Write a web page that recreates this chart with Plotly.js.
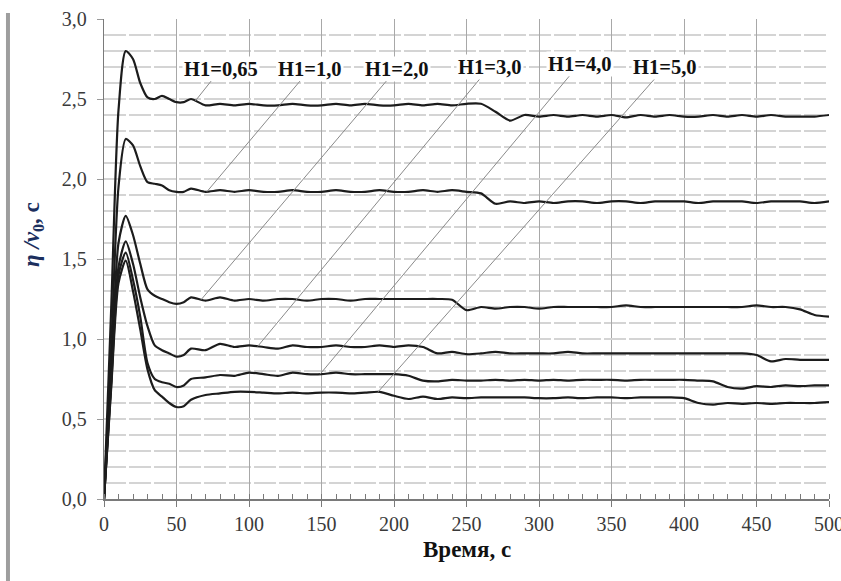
<!DOCTYPE html>
<html>
<head>
<meta charset="utf-8">
<script src="https://cdn.plot.ly/plotly-3.0.1.min.js"></script>
<style>html,body{margin:0;padding:0;background:#fff;}#chart{width:841px;height:581px;}</style>
</head>
<body>
<div id="chart"></div>
<script>
// Time axis (s)
const time = [0,5,10,15,20,25,30,35,40,45,50,55,60,
  70,80,90,100,110,120,130,140,150,
  160,170,180,190,200,210,220,230,240,250,
  260,270,280,290,300,310,320,330,340,350,
  360,370,380,390,400,410,420,430,440,450,
  460,470,480,490,500];

// η / v0 series (one per H1 value)
const h065 = [0,1.20,2.43,2.80,2.75,2.60,2.51,2.50,2.52,2.50,2.48,2.48,2.50,
  2.46,2.47,2.46,2.47,2.46,2.46,2.47,2.46,2.46,
  2.47,2.46,2.47,2.46,2.46,2.47,2.46,2.47,2.46,2.47,
  2.47,2.42,2.365,2.40,2.39,2.40,2.39,2.40,2.39,2.40,
  2.385,2.40,2.39,2.40,2.39,2.39,2.40,2.39,2.40,2.39,
  2.40,2.39,2.39,2.39,2.40];
const h10 = [0,0.95,1.95,2.25,2.21,2.08,1.98,1.97,1.96,1.93,1.92,1.92,1.94,
  1.92,1.93,1.92,1.93,1.92,1.92,1.93,1.92,1.92,
  1.93,1.92,1.92,1.93,1.92,1.92,1.93,1.92,1.93,1.92,
  1.91,1.845,1.86,1.85,1.86,1.85,1.86,1.86,1.85,1.86,
  1.86,1.85,1.86,1.86,1.86,1.85,1.86,1.86,1.86,1.85,
  1.86,1.86,1.86,1.85,1.86];
const h20 = [0,0.80,1.60,1.77,1.65,1.47,1.31,1.27,1.25,1.23,1.22,1.23,1.26,
  1.24,1.26,1.24,1.25,1.24,1.25,1.25,1.24,1.25,
  1.25,1.24,1.25,1.25,1.25,1.25,1.25,1.25,1.245,1.18,
  1.20,1.19,1.20,1.20,1.19,1.20,1.20,1.20,1.20,1.20,
  1.21,1.20,1.20,1.20,1.20,1.20,1.20,1.20,1.20,1.21,
  1.20,1.20,1.185,1.15,1.14];
const h30 = [0,0.75,1.45,1.61,1.47,1.26,1.08,0.96,0.93,0.91,0.89,0.90,0.94,
  0.93,0.97,0.95,0.96,0.95,0.94,0.96,0.95,0.95,
  0.96,0.95,0.95,0.96,0.95,0.96,0.95,0.91,0.92,0.905,
  0.91,0.92,0.91,0.91,0.91,0.91,0.92,0.91,0.91,0.91,
  0.91,0.91,0.91,0.91,0.91,0.91,0.91,0.91,0.91,0.90,
  0.86,0.875,0.87,0.87,0.87];
const h40 = [0,0.72,1.40,1.54,1.37,1.14,0.85,0.75,0.73,0.72,0.70,0.71,0.75,
  0.76,0.775,0.77,0.79,0.78,0.77,0.79,0.78,0.78,
  0.79,0.78,0.78,0.78,0.78,0.77,0.74,0.735,0.745,0.74,
  0.74,0.745,0.74,0.745,0.74,0.745,0.74,0.745,0.745,0.745,
  0.74,0.745,0.745,0.745,0.745,0.74,0.735,0.70,0.69,0.705,
  0.70,0.71,0.705,0.71,0.71];
const h50 = [0,0.70,1.35,1.49,1.30,1.06,0.81,0.68,0.64,0.60,0.575,0.58,0.62,
  0.65,0.66,0.67,0.67,0.665,0.66,0.665,0.66,0.665,
  0.665,0.66,0.665,0.67,0.645,0.625,0.64,0.625,0.635,0.63,
  0.635,0.635,0.635,0.635,0.63,0.63,0.635,0.63,0.635,0.635,
  0.63,0.635,0.635,0.635,0.63,0.60,0.59,0.60,0.595,0.60,
  0.595,0.60,0.60,0.60,0.605];

const seriesLabels = ["H1=0,65","H1=1,0","H1=2,0","H1=3,0","H1=4,0","H1=5,0"];
const series = [h065,h10,h20,h30,h40,h50];

// label callout placement (layout): time at which leader touches curve, label centre
const callout = [
  {t:63,  lx:80.7,  ly:2.69},
  {t:71,  lx:142.4, ly:2.69},
  {t:67,  lx:202,   ly:2.69},
  {t:106, lx:266,   ly:2.70},
  {t:149, lx:328,   ly:2.72},
  {t:189, lx:387,   ly:2.70}
];

function interp(xs, ys, x){
  for(let i=0;i<xs.length-1;i++){
    if(x>=xs[i] && x<=xs[i+1]){
      const f=(x-xs[i])/(xs[i+1]-xs[i]);
      return ys[i]+f*(ys[i+1]-ys[i]);
    }
  }
  return ys[ys.length-1];
}

const traces = series.map((s,i)=>({
  x: time, y: s, type:'scatter', mode:'lines', name: seriesLabels[i],
  line:{color:'#1c1c1c', width:2.2, shape:'spline', smoothing:0.7},
  showlegend:false, hoverinfo:'skip'
}));

const serif = 'Liberation Serif';

const annotations = series.map((s,i)=>({
  x: callout[i].t, y: interp(time, s, callout[i].t), xref:'x', yref:'y',
  ax: callout[i].lx, ay: callout[i].ly, axref:'x', ayref:'y',
  text:'<b>'+seriesLabels[i]+'</b>', showarrow:true, arrowhead:0, arrowwidth:1,
  arrowcolor:'#8a8a8a', bgcolor:'#ffffff', borderpad:1,
  font:{family:serif, size:20.5, color:'#111'}
}));

annotations.push({
  xref:'paper', yref:'paper', x:-0.098, y:0.552, xanchor:'center', yanchor:'middle',
  textangle:-90, showarrow:false,
  text:'<b><i>η /v</i><sub>0</sub>, c</b>',
  font:{family:serif, size:23, color:'#1c2f5e'}
});
annotations.push({
  xref:'paper', yref:'paper', x:0.5, y:-0.106, xanchor:'center', yanchor:'middle',
  showarrow:false, text:'<b>Время, с</b>',
  font:{family:serif, size:23, color:'#111'}
});

const layout = {
  width:841, height:581,
  margin:{l:104, r:12, t:19, b:82},
  paper_bgcolor:'#fff', plot_bgcolor:'#fff',
  separators:', ',
  showlegend:false,
  font:{family:serif},
  xaxis:{
    range:[0,500], dtick:50, tick0:0, showgrid:true, gridcolor:'#a8a8a8', gridwidth:1,
    zeroline:false, showline:true, linecolor:'#7a7a7a', linewidth:1.5,
    ticks:'outside', ticklen:6, tickcolor:'#7a7a7a', tickwidth:1,
    tickfont:{family:serif, size:20, color:'#3a3a3a'},
    ticklabeloverflow:'allow',
    minor:{dtick:10, ticks:'inside', ticklen:5, tickcolor:'#7a7a7a', showgrid:false},
    fixedrange:true
  },
  yaxis:{
    range:[0,3], dtick:0.5, tick0:0, tickformat:'.1f',
    showgrid:true, gridcolor:'#d4d4d4', gridwidth:1.5, griddash:'22px,3px',
    zeroline:false, showline:true, linecolor:'#7a7a7a', linewidth:1.2,
    ticks:'outside', ticklen:6, tickcolor:'#9a9a9a',
    tickfont:{family:serif, size:20, color:'#3a3a3a'},
    ticklabelstandoff:6,
    minor:{dtick:0.1, showgrid:true, gridcolor:'#d4d4d4', gridwidth:1.5, griddash:'22px,3px', ticks:''},
    fixedrange:true
  },
  shapes:[
    {type:'rect', xref:'paper', yref:'paper', x0:-0.1352, x1:-0.1297, y0:-0.2, y1:1.0125,
     fillcolor:'#9e9e9e', line:{width:0}, layer:'above'}
  ],
  annotations: annotations
};

Plotly.newPlot('chart', traces, layout, {staticPlot:true, displayModeBar:false});
</script>
</body>
</html>
